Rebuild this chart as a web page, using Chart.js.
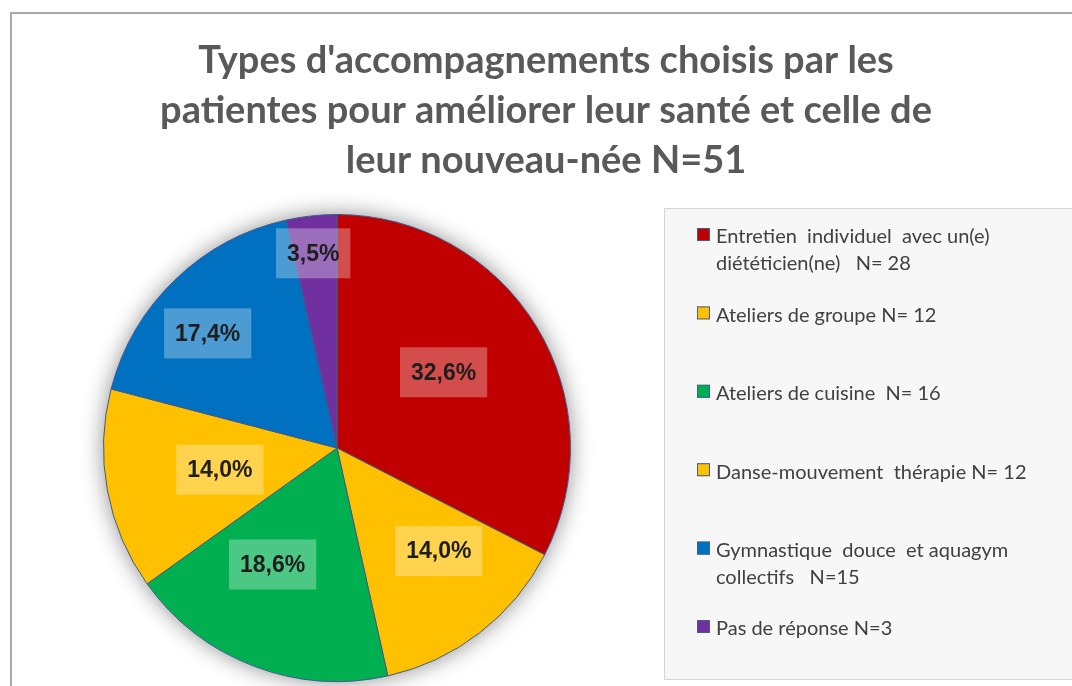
<!DOCTYPE html>
<html>
<head>
<meta charset="utf-8">
<script src="https://cdn.jsdelivr.net/npm/chart.js@4.4.0/dist/chart.umd.min.js"></script>
<style>
    body { margin: 0; background: #fff; }
    canvas { display: block; }
</style>
</head>
<body>
<canvas id="pie-chart" width="1072" height="686"></canvas>
<script>
let pieCanvas = document.getElementById("pie-chart");

// Chart inputs
const titleLines = [
    "Types d'accompagnements choisis par les",
    "patientes pour améliorer leur santé et celle de",
    "leur nouveau-née N=51"
];

// legend labels (one array per category, one string per line)
const categories = [
    ["Entretien  individuel  avec un(e)", "diététicien(ne)   N= 28"],
    ["Ateliers de groupe N= 12"],
    ["Ateliers de cuisine  N= 16"],
    ["Danse-mouvement  thérapie N= 12"],
    ["Gymnastique  douce  et aquagym", "collectifs   N=15"],
    ["Pas de réponse N=3"]
];

const counts = [28, 12, 16, 12, 15, 3];

const sliceColors = ["#C00000", "#FFC000", "#00B050", "#FFC000", "#0070C0", "#7030A0"];

// label placement: distance from the centre (share of radius) and turn in degrees
const labelRadius = [0.56, 0.62, 0.57, 0.51, 0.74, 0.84];
const labelTurn = [-4, -7, 8, 0, -4.5, -0.7];

// frame, title, shadow, labels and legend
const decorPlugin = {
    id: "decor",
    beforeDraw(chart) {
        const ctx = chart.ctx;
        ctx.save();
        ctx.strokeStyle = "#a8a8a8";
        ctx.lineWidth = 2;
        ctx.beginPath();
        ctx.moveTo(11, 686);
        ctx.lineTo(11, 13);
        ctx.lineTo(1072, 13);
        ctx.stroke();

        ctx.fillStyle = "#595959";
        ctx.font = "bold 38px Lato";
        ctx.textAlign = "center";
        ctx.textBaseline = "alphabetic";
        titleLines.forEach((line, i) => {
            ctx.fillText(line, 546, 73 + i * 50);
        });
        ctx.restore();
    },
    beforeDatasetsDraw(chart) {
        const arc = chart.getDatasetMeta(0).data[0];
        const ctx = chart.ctx;
        ctx.save();
        ctx.shadowColor = "rgba(0,0,0,0.45)";
        ctx.shadowBlur = 22;
        ctx.fillStyle = "#ffffff";
        ctx.beginPath();
        ctx.arc(arc.x, arc.y, arc.outerRadius, 0, Math.PI * 2);
        ctx.fill();
        ctx.restore();
    },
    afterDatasetsDraw(chart) {
        const ctx = chart.ctx;
        const values = chart.data.datasets[0].data;
        const total = values.reduce((a, b) => a + b, 0);
        ctx.save();
        ctx.font = "bold 23px 'Liberation Sans'";
        ctx.textAlign = "center";
        ctx.textBaseline = "middle";
        chart.getDatasetMeta(0).data.forEach((arc, i) => {
            const mid = (arc.startAngle + arc.endAngle) / 2 + labelTurn[i] * Math.PI / 180;
            const r = arc.outerRadius * labelRadius[i];
            const x = arc.x + Math.cos(mid) * r;
            const y = arc.y + Math.sin(mid) * r;
            const text = (values[i] / total * 100).toFixed(1).replace(".", ",") + "%";
            const w = ctx.measureText(text).width + 22;
            const h = 50;
            ctx.fillStyle = "rgba(255,255,255,0.3)";
            ctx.fillRect(x - w / 2, y - h / 2, w, h);
            ctx.fillStyle = "#1e1e1e";
            ctx.fillText(text, x, y + 1);
        });
        ctx.restore();

        // legend box
        ctx.save();
        ctx.fillStyle = "#f7f7f7";
        ctx.fillRect(664, 208, 420, 472);
        ctx.strokeStyle = "#d6d6d6";
        ctx.lineWidth = 1;
        ctx.strokeRect(664.5, 208.5, 420, 471);
        ctx.font = "20px Lato";
        ctx.textBaseline = "middle";
        categories.forEach((lines, i) => {
            const y = 237 + i * 78.4;
            ctx.fillStyle = sliceColors[i];
            ctx.fillRect(697, y - 9, 13, 13);
            ctx.strokeStyle = "#3f5f93";
            ctx.strokeRect(697.5, y - 8.5, 12, 12);
            ctx.fillStyle = "#404040";
            lines.forEach((line, j) => {
                ctx.fillText(line, 716, y + j * 27);
            });
        });
        ctx.restore();
    }
};

const pieData = {
    labels: categories,
    datasets: [{
        data: counts,
        backgroundColor: sliceColors,
        borderColor: "#3c5a8e",
        borderWidth: 1
    }]
};

const pieOptions = {
    responsive: false,
    animation: false,
    layout: {
        padding: { left: 103, top: 214, right: 501, bottom: 4 }
    },
    plugins: {
        legend: { display: false },
        title: { display: false },
        tooltip: { enabled: false }
    }
};

// Chart
let pieChart = new Chart(pieCanvas, {
    type: "pie",
    data: pieData,
    options: pieOptions,
    plugins: [decorPlugin]
});
</script>
</body>
</html>
